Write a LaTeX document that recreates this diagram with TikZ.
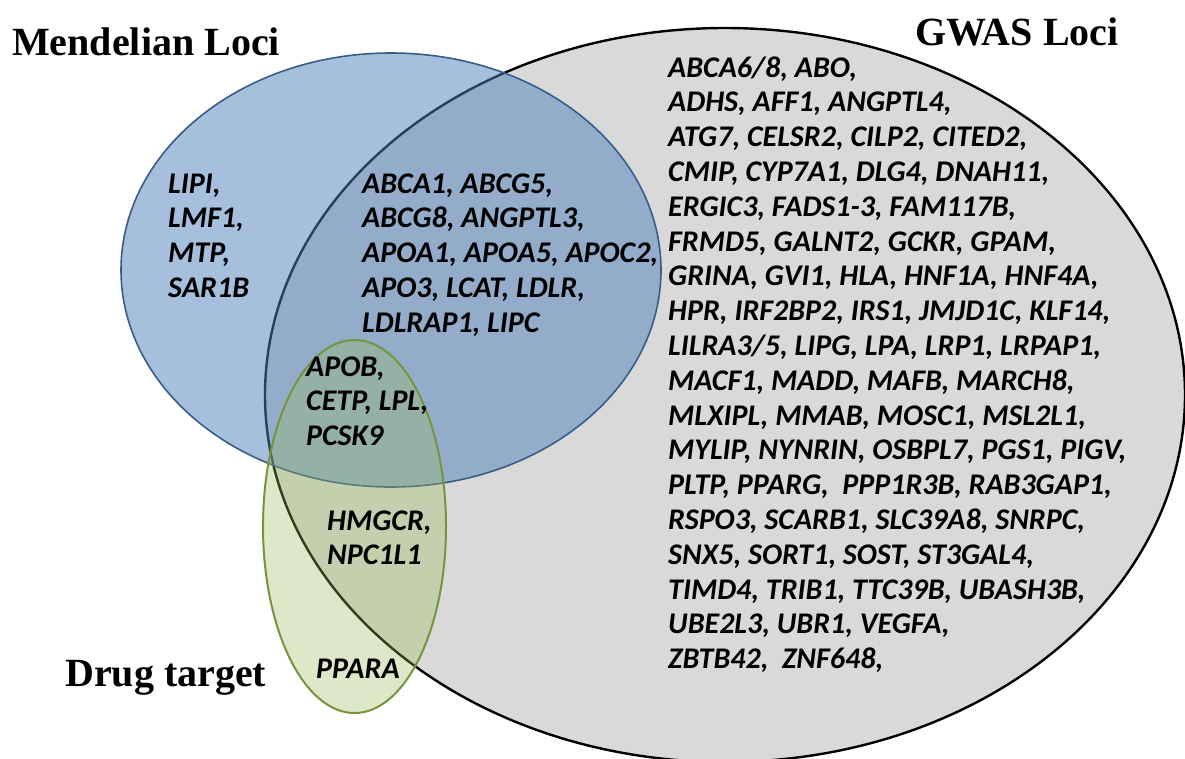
\documentclass[tikz,border=0pt]{standalone}
\usepackage{fontspec}
\setmainfont{Liberation Serif}
\newfontfamily\genefont{Carlito}
\definecolor{gwasfill}{RGB}{217,217,217}
\definecolor{mendfill}{RGB}{79,129,189}
\definecolor{mendline}{RGB}{56,93,138}
\definecolor{drugfill}{RGB}{155,187,89}
\definecolor{drugline}{RGB}{119,147,60}
\begin{document}
\begin{tikzpicture}[x=1pt,y=-1pt,
  title/.style={anchor=base west, inner sep=0pt, font=\bfseries\fontsize{40}{45}\selectfont},
  gene/.style={anchor=base west, inner sep=0pt, font=\genefont\bfseries\itshape\fontsize{30}{34.8}\selectfont},
  gwasset/.style={fill=gwasfill, draw=black, line width=2.4pt},
  mendset/.style={fill=mendfill, fill opacity=0.5, draw=mendline, draw opacity=1, line width=1.6pt},
  drugset/.style={fill=drugfill, fill opacity=0.33, draw=drugline, draw opacity=1, line width=2pt}]
\useasboundingbox (0,0) rectangle (1185,758);
\fill[white] (0,0) rectangle (1185,758);
% sets
\path[gwasset] (725,395) ellipse [x radius=460, y radius=367];
\path[mendset] (391,270) ellipse [x radius=270, y radius=217];
\path[drugset] (354.5,526.5) ellipse [x radius=91.5, y radius=186.5];
% titles
\node[title] (tmend) at (12,55) {Mendelian Loci};
\node[title] (tgwas) at (915,45) {GWAS Loci};
\node[title] (tdrug) at (65,686) {Drug target};
% gene lists
\node[gene] (gmend) at (168,193) {\begin{tabular}[t]{@{}l@{}}LIPI,\\LMF1,\\MTP,\\SAR1B\end{tabular}};
\node[gene] (gmendgwas) at (362,193) {\begin{tabular}[t]{@{}l@{}}ABCA1, ABCG5,\\ABCG8, ANGPTL3,\\APOA1, APOA5, APOC2,\\APO3, LCAT, LDLR,\\LDLRAP1, LIPC\end{tabular}};
\node[gene] (gall) at (306,376) {\begin{tabular}[t]{@{}l@{}}APOB,\\CETP, LPL,\\PCSK9\end{tabular}};
\node[gene] (gdruggwas) at (327,530) {\begin{tabular}[t]{@{}l@{}}HMGCR,\\NPC1L1\end{tabular}};
\node[gene] (gdrug) at (316,678) {PPARA};
\node[gene] (ggwas) at (668,77) {\begin{tabular}[t]{@{}l@{}}
ABCA6/8, ABO,\\
ADHS, AFF1, ANGPTL4,\\
ATG7, CELSR2, CILP2, CITED2,\\
CMIP, CYP7A1, DLG4, DNAH11,\\
ERGIC3, FADS1-3, FAM117B,\\
FRMD5, GALNT2, GCKR, GPAM,\\
GRINA, GVI1, HLA, HNF1A, HNF4A,\\
HPR, IRF2BP2, IRS1, JMJD1C, KLF14,\\
LILRA3/5, LIPG, LPA, LRP1, LRPAP1,\\
MACF1, MADD, MAFB, MARCH8,\\
MLXIPL, MMAB, MOSC1, MSL2L1,\\
MYLIP, NYNRIN, OSBPL7, PGS1, PIGV,\\
PLTP, PPARG,\ \ PPP1R3B, RAB3GAP1,\\
RSPO3, SCARB1, SLC39A8, SNRPC,\\
SNX5, SORT1, SOST, ST3GAL4,\\
TIMD4, TRIB1, TTC39B, UBASH3B,\\
UBE2L3, UBR1, VEGFA,\\
ZBTB42,\ \ ZNF648,\end{tabular}};
\end{tikzpicture}
\end{document}
